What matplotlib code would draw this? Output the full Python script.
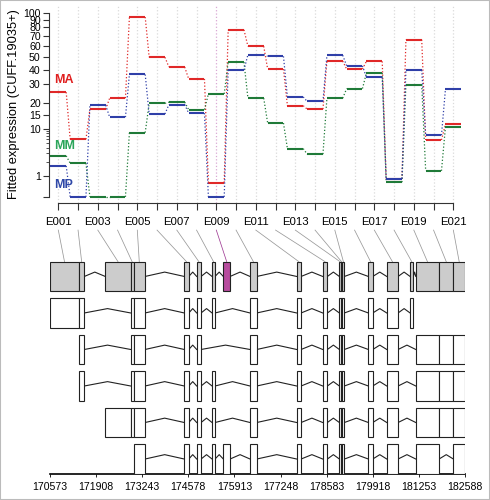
import numpy as np
import matplotlib
matplotlib.use('Agg')
import matplotlib.pyplot as plt
from matplotlib.patches import Rectangle

plt.rcParams['font.family'] = ['Liberation Sans Narrow', 'Liberation Sans', 'DejaVu Sans']

# exon bins
exon_ids = ['E%03d' % i for i in range(1, 22)]
ma = [25.3, 6.0, 17.4, 22.3, 94, 50, 42, 33.3, 0.68, 77, 60, 40.5, 18.9, 17.4, 46.7, 40.5, 46.5, 0.85, 66.4, 5.8, 11.4]
mm = [2.67, 1.86, 0, 0, 8.3, 20, 20.5, 17.2, 24.4, 45.9, 22.3, 11.9, 3.8, 2.9, 22.3, 27.3, 37.5, 0.70, 29.6, 1.28, 10.5]
mp = [1.63, 0, 19.1, 14.2, 36.4, 15.5, 19.4, 15.8, 0, 39.8, 52.2, 50.8, 22.9, 20.8, 51.7, 42.9, 34.3, 0.87, 39.8, 7.3, 26.8]

# genomic coords of the exonic parts
exon_start = [170573, 171413, 172174, 172910, 172991, 174462, 174821, 175265, 175592, 176365, 177717,
              178470, 178951, 178990, 179040, 179791, 180324, 180999, 181164, 181838, 182253]
exon_end = [171413, 171566, 172910, 172991, 173324, 174590, 174946, 175351, 175786, 176559, 177842,
            178604, 178990, 179040, 179096, 179918, 180651, 181094, 181838, 182253, 182588]
sig_exon = 9

# transcripts (exon numbers)
tx1 = [1, 2, 4, 5, 6, 7, 8, 10, 11, 12, 13, 14, 15, 16, 17, 18]
tx2 = [2, 4, 5, 6, 7, 10, 11, 12, 13, 14, 15, 16, 17, 19, 20, 21]
tx3 = [2, 4, 5, 6, 7, 8, 10, 11, 12, 13, 14, 15, 16, 17, 19, 20, 21]
tx4 = [3, 4, 5, 6, 7, 8, 10, 11, 12, 13, 14, 15, 16, 17, 19, 20, 21]
tx5 = [5, 6, 7, 8, 9, 10, 11, 12, 13, 14, 15, 16, 17, 19, 21]

gticks = np.arange(170573, 182589, 1335)

# y axis scale (like the original vst axis)
kv = np.array([-1, 0, 1, 10, 15, 20, 30, 40, 50, 60, 70, 80, 90, 100, 200], dtype=float)
kh = np.array([-21, 0, 21, 68, 81.5, 93.5, 112.7, 127, 139.5, 150.5, 160.5, 169.5, 177, 183.5, 227])


def g(x):
    x = np.asarray(x, dtype=float)
    return np.where(x < 1, x - 1, np.log10(np.maximum(x, 1)))


def ginv(u):
    u = np.asarray(u, dtype=float)
    return np.where(u < 0, u + 1, 10 ** np.maximum(u, 0))


kg = g(kv)


def fwd(x):
    return np.interp(g(x), kg, kh)


def inv(y):
    return ginv(np.interp(y, kh, kg))


fig = plt.figure(figsize=(4.9, 5), dpi=100)
ax = fig.add_axes([0.1, 0.594, 0.8449, 0.396])
gx = fig.add_axes([0.10204, 0.052, 0.8469, 0.49])

ax.set_yscale('function', functions=(fwd, inv))
ax.set_xlim(0.529, 21.49)
ax.set_ylim(-0.29, 114)

cols = {'MA': '#E02828', 'MM': '#1F7A38', 'MP': '#2F3FA8'}
txtcols = {'MA': '#E02020', 'MM': '#2BA55A', 'MP': '#2F48A8'}
xs = np.arange(1, 22)
hw = 0.4
for k in xs:
    c = '#D9A8D4' if k == sig_exon else '#DADADA'
    ax.axvline(k, color=c, ls=':', lw=0.9, zorder=0)

for name, vals in [('MA', ma), ('MM', mm), ('MP', mp)]:
    for i, v in enumerate(vals):
        ax.plot([xs[i] - hw, xs[i] + hw], [v, v], color=cols[name], lw=1.5, solid_capstyle='butt')
        if i < len(vals) - 1:
            ax.plot([xs[i] + hw, xs[i + 1] - hw], [v, vals[i + 1]], color=cols[name], lw=0.9, ls=':')

ax.text(0.012, 0.62, 'MA', color=txtcols['MA'], fontsize=9, fontweight='bold', family='Liberation Sans',
        transform=ax.transAxes, va='center')
ax.text(0.012, 0.29, 'MM', color=txtcols['MM'], fontsize=9, fontweight='bold', family='Liberation Sans',
        transform=ax.transAxes, va='center')
ax.text(0.012, 0.09, 'MP', color=txtcols['MP'], fontsize=9, fontweight='bold', family='Liberation Sans',
        transform=ax.transAxes, va='center')

for s in ['top', 'right']:
    ax.spines[s].set_visible(False)
ax.spines['left'].set_bounds(0, 100)
ax.spines['bottom'].set_bounds(1, 21)
for s in ['left', 'bottom']:
    ax.spines[s].set_linewidth(0.8)
    ax.spines[s].set_color('#333333')

yt = [0, 1, 10, 15, 20, 30, 40, 50, 60, 70, 80, 90, 100]
ax.set_yticks(yt)
ax.set_yticklabels([''] + [str(v) for v in yt[1:]])
ax.set_yticks([2, 3, 4, 5, 6, 7, 8, 9], minor=True)
ax.tick_params(axis='y', which='major', length=4, width=0.8, pad=2, labelsize=7.6, color='#333333')
ax.tick_params(axis='y', which='minor', length=2, width=0.6, color='#333333')
ax.set_xticks(xs)
ax.set_xticklabels([e if i % 2 == 0 else '' for i, e in enumerate(exon_ids)])
ax.tick_params(axis='x', length=5, width=0.8, pad=5, labelsize=8.2, color='#333333')

fig.text(0.028, 0.792, 'Fitted expression (CUFF.19035+)', rotation=90, ha='center', va='center', fontsize=9.3)

# gene model
gx.set_xlim(170573, 182588)
gx.set_ylim(5.41, -1.3)
bh = 0.405
rows = [list(range(1, 22)), tx1, tx2, tx3, tx4, tx5]
for r, parts in enumerate(rows):
    for j, e in enumerate(parts):
        s, t = exon_start[e - 1], exon_end[e - 1]
        if r == 0:
            fc = '#B84C9E' if e == sig_exon else '#CCCCCC'
        else:
            fc = 'white'
        gx.add_patch(Rectangle((s, r - bh), t - s, 2 * bh, facecolor=fc, edgecolor='#222222', lw=0.8, zorder=3))
        if j < len(parts) - 1:
            n = parts[j + 1]
            s2 = exon_start[n - 1]
            if s2 > t:
                gx.plot([t, (t + s2) / 2, s2], [r, r - 0.12, r], color='#222222', lw=0.8, zorder=2)

for k in range(21):
    px = ax.transData.transform((k + 1, 1))[0]
    xb = gx.transData.inverted().transform((px, 0))[0]
    mid = (exon_start[k] + exon_end[k]) / 2
    c = '#A03D95' if k + 1 == sig_exon else '#999999'
    gx.plot([xb, mid], [-1.27, -bh], color=c, lw=0.55, zorder=1)

for s in ['top', 'right', 'left']:
    gx.spines[s].set_visible(False)
gx.spines['bottom'].set_linewidth(1.2)
gx.set_yticks([])
gx.set_xticks(gticks)
gx.set_xticklabels([str(v) for v in gticks])
gx.tick_params(axis='x', length=2, width=0.6, pad=4, labelsize=7.6)

fig.add_artist(Rectangle((0, 0), 1, 1, transform=fig.transFigure, fill=False, edgecolor='#BBBBBB', lw=1.5))

fig.savefig('out.png', dpi=100)
